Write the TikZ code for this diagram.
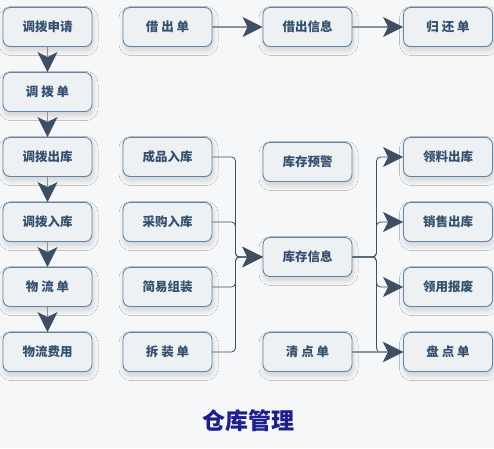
\documentclass[tikz,border=0pt]{standalone}
\usepackage{fontspec}
\newfontfamily\cjk{Noto Sans CJK SC}
\usetikzlibrary{arrows.meta,shadows.blur}
\definecolor{bg}{HTML}{F6F7F9}
\definecolor{boxfill}{HTML}{EEF1F4}
\definecolor{boxline}{HTML}{5F84A5}
\definecolor{txt}{HTML}{34506E}
\definecolor{arr}{HTML}{3E4F63}
\definecolor{ln}{HTML}{8A9199}
\definecolor{titlec}{HTML}{1E1E8C}
\begin{document}
\begin{tikzpicture}[x=1pt,y=-1pt,
 box/.style={draw=boxline, line width=0.9pt, fill=boxfill, rounded corners=7pt,
   minimum width=89pt, minimum height=39pt, inner sep=0pt,
   font=\cjk\bfseries\fontsize{12.5}{14}\selectfont, text=txt,
   blur shadow={shadow xshift=1pt, shadow yshift=-4pt, shadow blur steps=12, shadow blur radius=5pt, shadow opacity=16}},
 bigarrow/.style={draw=ln, line width=1.4pt, -{Stealth[length=20pt,width=20pt,inset=5pt,color=arr]}},
 link/.style={draw=arr, line width=0.8pt, rounded corners=4pt, -{Stealth[length=20pt,width=20pt,inset=5pt,color=arr]}}
]
\fill[bg] (0,0) rectangle (494,448);
\useasboundingbox (0,0) rectangle (494,448);

% column 1
\node[box] (a1) at (47.5,27) {调拨申请};
\node[box] (a2) at (47.5,92) {调 拨 单};
\node[box] (a3) at (47.5,157) {调拨出库};
\node[box] (a4) at (47.5,222) {调拨入库};
\node[box] (a5) at (47.5,287) {物 流 单};
\node[box] (a6) at (47.5,352) {物流费用};

% column 2
\node[box] (b1) at (167.5,27) {借 出 单};
\node[box] (b2) at (167.5,157) {成品入库};
\node[box] (b3) at (167.5,222) {采购入库};
\node[box] (b4) at (167.5,287) {简易组装};
\node[box] (b5) at (167.5,352) {拆 装 单};

% column 3
\node[box] (c1) at (307.5,27) {借出信息};
\node[box] (c2) at (307.5,162) {库存预警};
\node[box] (c3) at (307.5,257) {库存信息};
\node[box] (c4) at (307.5,352) {清 点 单};

% column 4
\node[box] (d1) at (448,27) {归 还 单};
\node[box] (d2) at (448,157) {领料出库};
\node[box] (d3) at (448,222) {销售出库};
\node[box] (d4) at (448,287) {领用报废};
\node[box] (d5) at (448,352) {盘 点 单};

% vertical chain
\draw[bigarrow] (a1.south) -- (a2.north);
\draw[bigarrow] (a2.south) -- (a3.north);
\draw[bigarrow] (a3.south) -- (a4.north);
\draw[bigarrow] (a4.south) -- (a5.north);
\draw[bigarrow] (a5.south) -- (a6.north);

% top row
\draw[bigarrow] (b1.east) -- (c1.west);
\draw[bigarrow] (c1.east) -- (d1.west);

% merge into stock info
\draw[link] (b2.east) -- ++(23,0) |- (c3.west);
\draw[link] (b3.east) -- ++(23,0) |- (c3.west);
\draw[link] (b4.east) -- ++(23,0) |- (c3.west);
\draw[link] (b5.east) -- ++(23,0) |- (c3.west);

% branches out
\draw[link] (c3.east) -- ++(24,0) |- (d2.west);
\draw[link] (c3.east) -- ++(24,0) |- (d3.west);
\draw[link] (c3.east) -- ++(24,0) |- (d4.west);
\draw[link] (c3.east) -- ++(24,0) |- (d5.west);

\draw[bigarrow] (c4.east) -- (d5.west);

\node[font=\cjk\bfseries\fontsize{23}{26}\selectfont, text=titlec] (title) at (248,421) {仓库管理};
\end{tikzpicture}
\end{document}
